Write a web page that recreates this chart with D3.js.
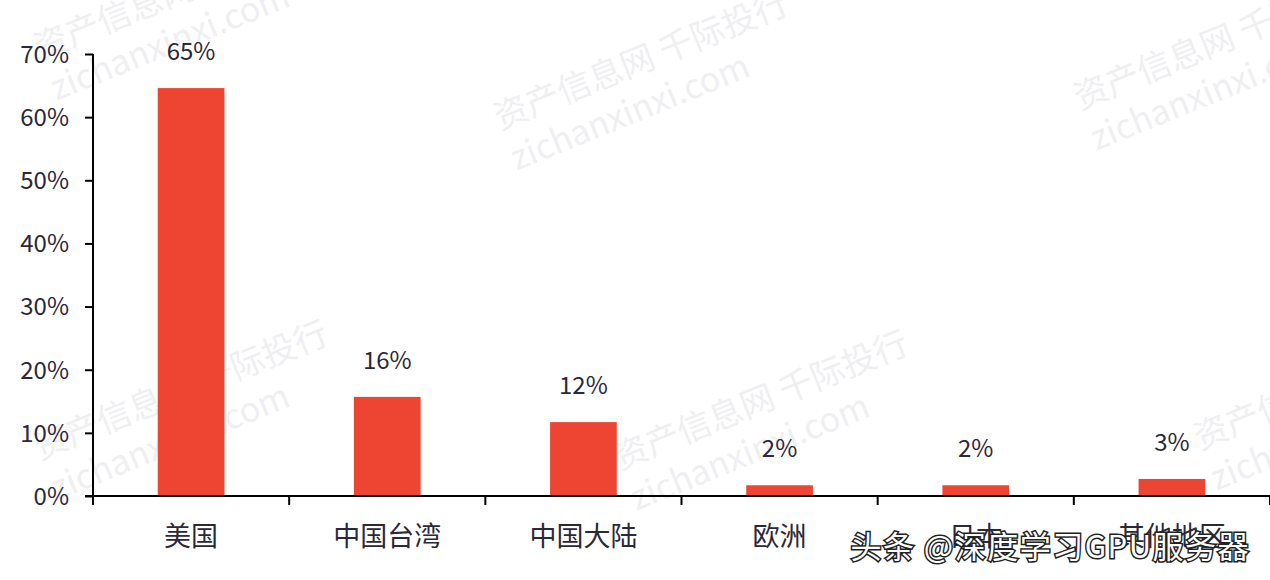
<!DOCTYPE html>
<html>
<head>
<meta charset="utf-8">
<script src="https://cdn.jsdelivr.net/npm/d3@7"></script>
<style>
body { margin: 0; background: #fff; }
svg { display: block; }
</style>
</head>
<body>
<script>
// data
var regions = ["美国", "中国台湾", "中国大陆", "欧洲", "日本", "其他地区"];
var shares = [64.6, 15.7, 11.7, 1.7, 1.7, 2.7];
var yTicks = [0, 10, 20, 30, 40, 50, 60, 70];

var width = 1270, height = 580;
var margin = { top: 54, right: 0, bottom: 84, left: 93 };

var svg = d3.select("body").append("svg")
    .attr("width", width)
    .attr("height", height);

var x = d3.scaleBand()
    .domain(regions)
    .range([margin.left, 1270])
    .paddingInner(0.66)
    .paddingOuter(0.33);

var y = d3.scaleLinear()
    .domain([0, 70])
    .range([height - margin.bottom, margin.top]);

var font = "'Noto Sans CJK SC', 'Noto Sans', sans-serif";
var textColor = "#2b2838";

// faint background watermarks
var wm = svg.append("g").attr("fill", "#efeff2").attr("font-family", font);
[[40, 60], [500, 130], [1080, 110], [40, 460], [620, 470], [1200, 450]].forEach(function (p) {
    var g = wm.append("g").attr("transform", "translate(" + p[0] + "," + p[1] + ") rotate(-22)");
    g.append("text").attr("font-size", 34).text("资产信息网 千际投行");
    g.append("text").attr("y", 44).attr("font-size", 34).text("zichanxinxi.com");
});

// bars
svg.append("g")
    .selectAll("rect")
    .data(regions)
    .enter().append("rect")
    .attr("x", function (d) { return x(d); })
    .attr("y", function (d, i) { return y(shares[i]); })
    .attr("width", x.bandwidth())
    .attr("height", function (d, i) { return y(0) - y(shares[i]); })
    .attr("fill", "#ee4432");

// value labels
svg.append("g")
    .selectAll("text")
    .data(regions)
    .enter().append("text")
    .attr("x", function (d) { return x(d) + x.bandwidth() / 2; })
    .attr("y", function (d, i) { return y(shares[i]) - 28; })
    .attr("text-anchor", "middle")
    .attr("font-family", font)
    .attr("font-size", 24)
    .attr("fill", textColor)
    .text(function (d, i) { return d3.format(".0f")(shares[i]) + "%"; });

// y axis
var yAxis = svg.append("g")
    .attr("transform", "translate(" + margin.left + ",0)")
    .call(d3.axisLeft(y).tickValues(yTicks).tickSize(8).tickPadding(16)
        .tickFormat(function (d) { return d + "%"; }));
yAxis.selectAll("path, line").attr("stroke", "#000").attr("stroke-width", 2);
yAxis.select(".domain").attr("d", "M0," + y(70) + "V" + y(0));
yAxis.selectAll("text")
    .attr("font-family", font)
    .attr("font-size", 24)
    .attr("fill", textColor)
    .attr("dy", "0.35em");

// x axis with ticks on band boundaries
var xAxis = svg.append("g")
    .attr("transform", "translate(0," + y(0) + ")");
xAxis.append("line")
    .attr("x1", margin.left - 8).attr("x2", 1270)
    .attr("stroke", "#000").attr("stroke-width", 2);
var step = x.step();
xAxis.selectAll(".bound")
    .data(regions)
    .enter().append("line")
    .attr("x1", function (d) { return x(d) - x.paddingOuter() * step + step; })
    .attr("x2", function (d) { return x(d) - x.paddingOuter() * step + step; })
    .attr("y1", 0).attr("y2", 9)
    .attr("stroke", "#000").attr("stroke-width", 2);
xAxis.append("line")
    .attr("x1", margin.left).attr("x2", margin.left)
    .attr("y1", 0).attr("y2", 9)
    .attr("stroke", "#000").attr("stroke-width", 2);
xAxis.selectAll(".cat")
    .data(regions)
    .enter().append("text")
    .attr("x", function (d) { return x(d) + x.bandwidth() / 2; })
    .attr("y", 50)
    .attr("text-anchor", "middle")
    .attr("font-family", font)
    .attr("font-size", 27)
    .attr("fill", textColor)
    .text(function (d) { return d; });

// source watermark
svg.append("text")
    .attr("x", 1250)
    .attr("y", 558)
    .attr("text-anchor", "end")
    .attr("font-family", font)
    .attr("font-size", 31)
    .attr("letter-spacing", 1.5)
    .attr("fill", "#fff")
    .attr("stroke", "#222")
    .attr("stroke-width", 3)
    .attr("paint-order", "stroke")
    .text("头条 @深度学习GPU服务器");
</script>
</body>
</html>
